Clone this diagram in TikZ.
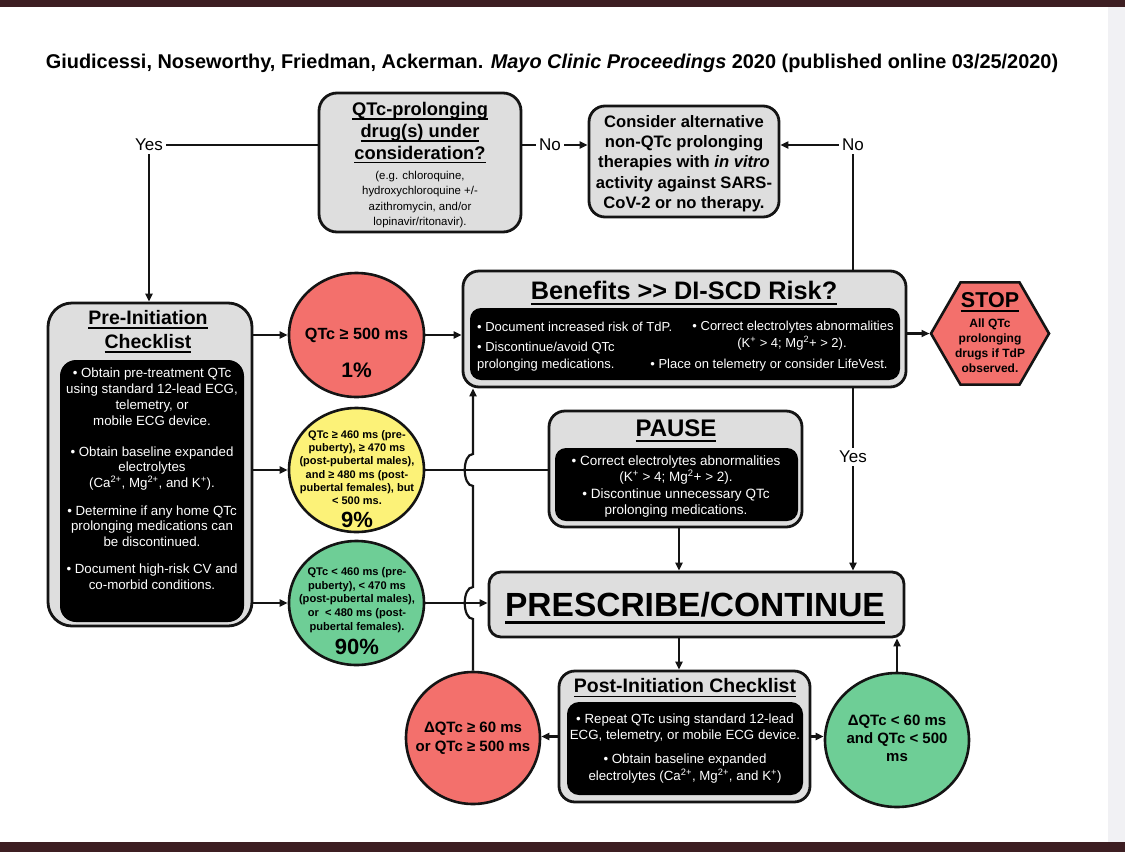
\documentclass[tikz,border=0pt]{standalone}
\usepackage{fontspec}
\setmainfont{Liberation Sans}
\usetikzlibrary{arrows.meta,shapes.geometric,calc}
\definecolor{barc}{RGB}{61,30,34}
\definecolor{stripc}{RGB}{241,241,244}
\definecolor{boxg}{RGB}{222,222,222}
\definecolor{redc}{RGB}{243,112,108}
\definecolor{yelc}{RGB}{252,242,120}
\definecolor{grnc}{RGB}{110,206,150}
\definecolor{linec}{RGB}{20,20,20}
\newcommand\myul[2][0.22em]{\leavevmode\setbox0\hbox{#2}\rlap{\rule[-#1]{\wd0}{0.08em}}\box0}
\newcommand\fsz[2]{\fontsize{#1}{#2}\selectfont}
\begin{document}
\begin{tikzpicture}[x=1pt,y=-1pt,
  gbox/.style={draw=linec,line width=2.8pt,fill=boxg,rounded corners=16pt,inner sep=0pt},
  bbox/.style={fill=black,rounded corners=11pt,inner sep=0pt},
  circ/.style={ellipse,draw=linec,line width=2.6pt,inner sep=0pt},
  conn/.style={draw=linec,line width=2.2pt},
  arr/.style={conn,-{Triangle[length=8pt,width=7pt]}},
  lbl/.style={font=\fsz{17}{20},inner sep=3pt},
  wt/.style={text=white,align=center,inner sep=0pt},
  bt/.style={align=center,inner sep=0pt}]
\useasboundingbox (0,0) rectangle (1125,852);
\fill[white] (0,0) rectangle (1125,852);
\fill[stripc] (1108,0) rectangle (1125,852);
\fill[barc] (0,0) rectangle (1125,7);
\fill[barc] (0,842) rectangle (1125,852);

\node[font=\fsz{19.9}{22}\bfseries,inner sep=0pt] (title) at (552,63) {Giudicessi, Noseworthy, Friedman, Ackerman. \textit{Mayo Clinic Proceedings} 2020 (published online 03/25/2020)};

% top row
\node[lbl] (yes1) at (149,145) {Yes};
\node[gbox,minimum width=202pt,minimum height=139pt,rounded corners=18pt] (q) at (420,162.5) {};
\node[bt,font=\fsz{18.3}{21.7}\bfseries] (qt) at (420,133) {\myul{QTc-prolonging}\\\myul{drug(s) under}\\\myul{consideration?}};
\node[bt,font=\fsz{11.4}{15.5}] (qs) at (420,199.5) {(e.g. chloroquine,\\hydroxychloroquine +/-\\azithromycin, and/or\\lopinavir/ritonavir).};
\node[lbl] (no1) at (550,145) {No};
\node[gbox,minimum width=190pt,minimum height=111pt] (cons) at (684,161.5) {};
\node[bt,font=\fsz{16.6}{20.3}\bfseries] (ct) at (684,163.5) {Consider alternative\\non-QTc prolonging\\therapies with \textit{in vitro}\\activity against SARS-\\CoV-2 or no therapy.};
\node[lbl] (no2) at (853,145) {No};

% benefits
\node[gbox,minimum width=443pt,minimum height=116pt] (ben) at (684.5,329) {};
\node[bt,font=\fsz{25.3}{28}\bfseries] (btitle) at (684,293.5) {\myul{Benefits {>}{>} DI-SCD Risk?}};
\node[bbox,minimum width=430pt,minimum height=72pt] (benb) at (685,344) {};
\node[wt,font=\fsz{13}{16},anchor=west] (b1) at (477,327) {• Document increased risk of TdP.};
\node[wt,font=\fsz{13}{16},anchor=west] (b2) at (477,348) {• Discontinue/avoid QTc};
\node[wt,font=\fsz{13}{16},anchor=west] (b3) at (477,365) {prolonging medications.};
\node[wt,font=\fsz{13}{16}] (b4) at (793,327) {• Correct electrolytes abnormalities};
\node[wt,font=\fsz{13}{16}] (b5) at (792,343) {(K\textsuperscript{+} > 4; Mg\textsuperscript{2}+ > 2).};
\node[wt,font=\fsz{13}{16}] (b6) at (769,365) {• Place on telemetry or consider LifeVest.};

% stop
\node[regular polygon,regular polygon sides=6,minimum size=118pt,draw=linec,line width=2.6pt,fill=redc,inner sep=0pt] (stop) at (990,333.5) {};
\node[bt,font=\fsz{21.5}{24}\bfseries] (st) at (990,302) {\myul{STOP}};
\node[bt,font=\fsz{12}{15}\bfseries] (st2) at (990,346) {All QTc\\prolonging\\drugs if TdP\\observed.};

% pre-initiation
\node[gbox,minimum width=204pt,minimum height=323pt,rounded corners=24pt] (pre) at (150,464.5) {};
\node[bt,font=\fsz{19.5}{24}\bfseries] (pt) at (148,331.5) {\myul{Pre-Initiation}\\\myul{Checklist}};
\node[bbox,minimum width=184pt,minimum height=262pt,rounded corners=16pt] (preb) at (152,491) {};
\node[wt,font=\fsz{13.3}{16}] (p1) at (152,397) {• Obtain pre-treatment QTc\\using standard 12-lead ECG,\\telemetry, or\\mobile ECG device.};
\node[wt,font=\fsz{13.3}{15.5}] (p2) at (152,468.5) {• Obtain baseline expanded\\electrolytes\\(Ca\textsuperscript{2+}, Mg\textsuperscript{2+}, and K\textsuperscript{+}).};
\node[wt,font=\fsz{13.3}{15.5}] (p3) at (152,526) {• Determine if any home QTc\\prolonging medications can\\be discontinued.};
\node[wt,font=\fsz{13.3}{15.5}] (p4) at (152,576.5) {• Document high-risk CV and\\co-morbid conditions.};

% circles
\node[circ,fill=redc,minimum width=135pt,minimum height=124pt] (c1) at (356.5,335) {};
\node[bt,font=\fsz{16.2}{19}\bfseries] (c1a) at (356.5,335) {QTc ≥ 500 ms};
\node[bt,font=\fsz{21}{24}\bfseries] (c1b) at (356.5,370) {1\%};
\node[circ,fill=yelc,minimum width=135pt,minimum height=124pt] (c2) at (356.5,470) {};
\node[bt,font=\fsz{11}{13.3}\bfseries] (c2a) at (357,467.5) {QTc ≥ 460 ms (pre-\\puberty), ≥ 470 ms\\(post-pubertal males),\\and ≥ 480 ms (post-\\pubertal females), but\\< 500 ms.};
\node[bt,font=\fsz{22}{25}\bfseries] (c2b) at (357,519.5) {9\%};
\node[circ,fill=grnc,minimum width=135pt,minimum height=124pt] (c3) at (356.5,603) {};
\node[bt,font=\fsz{11.1}{13.6}\bfseries] (c3a) at (357,600) {QTc < 460 ms (pre-\\puberty), < 470 ms\\(post-pubertal males),\\or\ \ < 480 ms (post-\\pubertal females).};
\node[bt,font=\fsz{22}{25}\bfseries] (c3b) at (357,647) {90\%};

% pause
\node[gbox,minimum width=253pt,minimum height=116pt] (pause) at (675.5,469) {};
\node[bt,font=\fsz{24}{27}\bfseries] (pat) at (676,430.5) {\myul{PAUSE}};
\node[bbox,minimum width=243pt,minimum height=73pt] (pauseb) at (676.5,484.5) {};
\node[wt,font=\fsz{13.5}{16.5}] (pa1) at (676,486.5) {• Correct electrolytes abnormalities\\(K\textsuperscript{+} > 4; Mg\textsuperscript{2}+ > 2).\\• Discontinue unnecessary QTc\\prolonging medications.};
\node[lbl] (yes2) at (853,457) {Yes};

% prescribe
\node[gbox,minimum width=415pt,minimum height=65pt,rounded corners=12pt] (presc) at (696.5,604.5) {};
\node[bt,font=\fsz{33.5}{36}\bfseries] (prt) at (695,608) {\myul{PRESCRIBE/CONTINUE}};

% post
\node[gbox,minimum width=251pt,minimum height=131pt] (post) at (684.5,736.5) {};
\node[bt,font=\fsz{19.5}{22}\bfseries] (pot) at (685,688) {\myul{Post-Initiation Checklist}};
\node[bbox,minimum width=236pt,minimum height=93pt,rounded corners=12pt] (postb) at (685,748.5) {};
\node[wt,font=\fsz{13.3}{15.5}] (po1) at (685,728) {• Repeat QTc using standard 12-lead\\ECG, telemetry, or mobile ECG device.};
\node[wt,font=\fsz{13.3}{17.5}] (po2) at (685,768.5) {• Obtain baseline expanded\\electrolytes (Ca\textsuperscript{2+}, Mg\textsuperscript{2+}, and K\textsuperscript{+})};

\node[circ,fill=redc,minimum width=134pt,minimum height=132pt] (c4) at (473,738) {};
\node[bt,font=\fsz{15}{19}\bfseries] (c4a) at (473,738.5) {ΔQTc ≥ 60 ms\\or QTc ≥ 500 ms};
\node[circ,fill=grnc,minimum width=144pt,minimum height=134pt] (c5) at (897,740) {};
\node[bt,font=\fsz{15}{18}\bfseries] (c5a) at (897,738) {ΔQTc < 60 ms\\and QTc < 500\\ms};

% connectors
\coordinate (ax) at (679,0);
\draw[conn] (yes1.east) -- (yes1.east -| q.west);
\draw[arr] (yes1.south) -- (yes1.south |- pre.north);
\draw[conn] (no1.west -| q.east) -- (no1.west);
\draw[arr] (no1.east) -- (no1.east -| cons.west);
\draw[arr] (no2.west) -- (no2.west -| cons.east);
\draw[conn] (no2.south) -- (no2.south |- ben.north);
\draw[arr] (pre.east |- c1.west) -- (c1.west);
\draw[arr] (pre.east |- c2.west) -- (c2.west);
\draw[arr] (pre.east |- c3.west) -- (c3.west);
\draw[arr] (c1.east) -- (c1.east -| ben.west);
\draw[arr] (ben.east |- stop.west) -- (stop.west);
\draw[conn] (c2.east) -- (c2.east -| pause.west);
\draw[arr] (c3.east) -- (c3.east -| presc.west);
\draw[conn] (ben.south -| yes2) -- (yes2.north);
\draw[arr] (yes2.south) -- (yes2.south |- presc.north);
\draw[arr] (pause.south -| ax) -- (presc.north -| ax);
\draw[arr] (presc.south -| ax) -- (post.north -| ax);
\draw[arr] (post.west) -- (post.west -| c4.east);
\draw[arr] (post.east) -- (post.east -| c5.west);
\draw[arr] (c5.north) -- (c5.north |- presc.south);
\draw[arr] (c4.north) -- ($(c4.north |- c3.east)+(0,16)$)
  .. controls +(-11,0) and +(-11,0) .. ($(c4.north |- c3.east)+(0,-16)$)
  -- ($(c4.north |- c2.east)+(0,16)$)
  .. controls +(-11,0) and +(-11,0) .. ($(c4.north |- c2.east)+(0,-16)$)
  -- (c4.north |- ben.south);
\end{tikzpicture}
\end{document}
